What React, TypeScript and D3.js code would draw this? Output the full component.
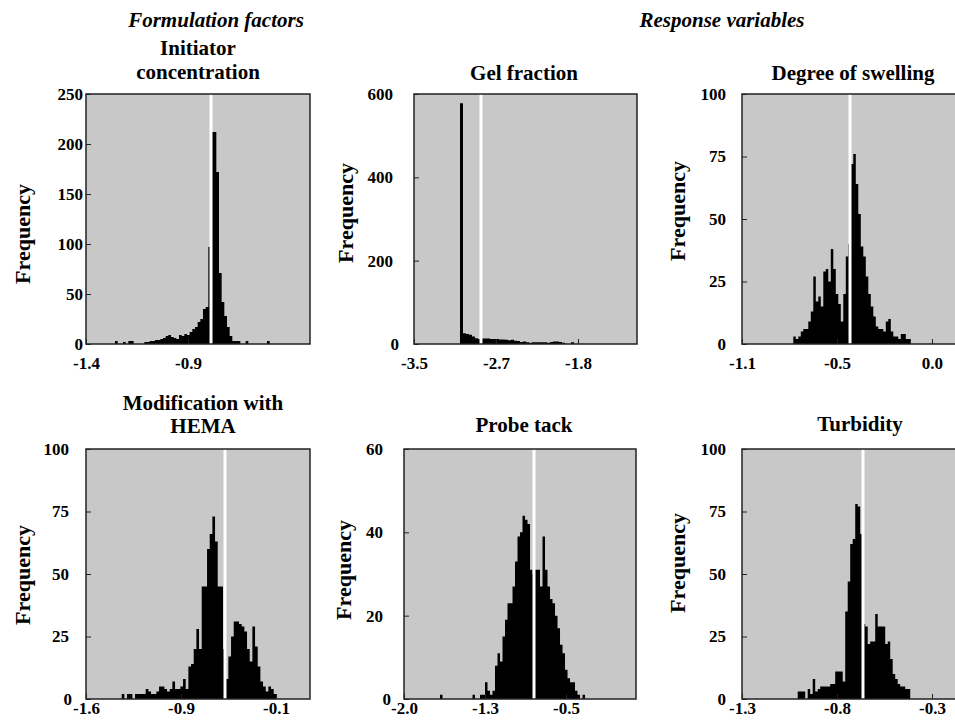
import React, { useEffect, useRef } from 'react';
import * as d3 from 'd3';

const SERIF = '"Liberation Serif", "Times New Roman", serif';

// Initiator concentration
const initiatorCounts = [3, 0, 0, 2, 0, 3, 3, 0, 0, 0, 0, 2, 2, 3, 3, 4, 4, 5, 6, 8, 9, 7, 6, 5, 9, 8, 10, 9, 12, 15, 17, 22, 25, 35, 37, 97, 212, 212, 172, 71, 42, 28, 17, 8, 3, 3, 3, 0, 0, 3, 0, 0, 0, 0, 0, 0, 0, 3];
const initiatorBin = { start: -1.2436, step: 0.01438 };
const initiatorTicks = [-1.4, -0.85];
const initiatorTickLabels = ['-1.4', '-0.9'];
const initiatorRef = -0.7258;

// Gel fraction
const gelCounts = [578, 26, 24, 22, 18, 14, 12, 13, 13, 13, 12, 12, 12, 11, 11, 10, 9, 10, 8, 7, 5, 6, 4, 3, 4, 4, 4, 4, 4, 3, 5, 6, 6, 5, 3, 0, 0, 4];
const gelBin = { start: -3.0233, step: 0.0311 };
const gelTicks = [-3.5, -2.65, -1.8];
const gelTickLabels = ['-3.5', '-2.7', '-1.8'];
const gelRef = -2.8057;

// Degree of swelling
const swellingCounts = [3, 2, 3, 5, 6, 6, 9, 13, 27, 17, 19, 15, 29, 30, 25, 38, 30, 20, 16, 9, 20, 35, 40, 72, 76, 64, 52, 39, 35, 27, 20, 15, 11, 7, 6, 6, 5, 9, 10, 5, 3, 3, 2, 4, 4, 2, 2];
const swellingBin = { start: -0.803, step: 0.014476 };
const swellingTicks = [-1.1, -0.55, 0.0];
const swellingTickLabels = ['-1.1', '-0.5', '0.0'];
const swellingRef = -0.4746;

// Modification with HEMA
const hemaCounts = [2, 0, 2, 2, 0, 2, 2, 2, 2, 4, 3, 2, 2, 3, 5, 5, 4, 3, 4, 7, 4, 4, 5, 8, 4, 13, 14, 20, 28, 20, 45, 45, 60, 66, 73, 63, 45, 45, 20, 8, 17, 25, 31, 31, 30, 29, 27, 20, 15, 29, 21, 13, 7, 5, 3, 5, 4, 2];
const hemaBin = { start: -1.3182, step: 0.02105 };
const hemaTicks = [-1.6, -0.85, -0.1];
const hemaTickLabels = ['-1.6', '-0.9', '-0.1'];
const hemaRef = -0.5029;

// Probe tack
const tackCounts = [1, 0, 0, 0, 0, 0, 0, 0, 0, 0, 0, 0, 0, 1, 0, 0, 1, 1, 4, 2, 1, 2, 8, 11, 9, 15, 19, 23, 23, 27, 33, 39, 40, 44, 43, 42, 31, 30, 31, 31, 27, 39, 31, 27, 24, 23, 20, 17, 13, 11, 7, 5, 4, 4, 2, 1, 0, 1];
const tackBin = { start: -1.6667, step: 0.02315 };
const tackTicks = [-2.0, -1.25, -0.5];
const tackTickLabels = ['-2.0', '-1.3', '-0.5'];
const tackRef = -0.7963;

// Turbidity
const turbidityCounts = [3, 3, 3, 0, 4, 2, 8, 3, 4, 5, 5, 5, 5, 6, 6, 11, 11, 11, 7, 35, 47, 62, 64, 78, 77, 66, 30, 29, 22, 23, 23, 34, 29, 29, 29, 22, 23, 16, 10, 8, 6, 5, 5, 4, 4];
const turbidityBin = { start: -1.0068, step: 0.01316 };
const turbidityTicks = [-1.3, -0.8, -0.3];
const turbidityTickLabels = ['-1.3', '-0.8', '-0.3'];
const turbidityRef = -0.6632;

const yTicks250 = [0, 50, 100, 150, 200, 250];
const yTicks600 = [0, 200, 400, 600];
const yTicks100 = [0, 25, 50, 75, 100];
const yTicks60 = [0, 20, 40, 60];

const panels = [
  { title: ['Initiator', 'concentration'], counts: initiatorCounts, bin: initiatorBin, xDomain: [-1.4, -0.192], xTicks: initiatorTicks, xLabels: initiatorTickLabels, ref: initiatorRef, yTicks: yTicks250,
    left: 86, top: 94, width: 224, yPad: 3, zeroDx: 0, xPad: 13, titleX: 198, titleY: [55, 79], freqX: 22, freqY: 234 },
  { title: ['Gel fraction'], counts: gelCounts, bin: gelBin, xDomain: [-3.5, -1.189], xTicks: gelTicks, xLabels: gelTickLabels, ref: gelRef, yTicks: yTicks600,
    left: 414, top: 94, width: 223, yPad: 21, zeroDx: 6, xPad: 13, titleX: 524, titleY: [80], freqX: 345, freqY: 213 },
  { title: ['Degree of swelling'], counts: swellingCounts, bin: swellingBin, xDomain: [-1.1, 0.197], xTicks: swellingTicks, xLabels: swellingTickLabels, ref: swellingRef, yTicks: yTicks100,
    left: 742, top: 94, width: 224, yPad: 16, zeroDx: 0, xPad: 13, titleX: 853, titleY: [80], freqX: 677, freqY: 211 },
  { title: ['Modification with', 'HEMA'], counts: hemaCounts, bin: hemaBin, xDomain: [-1.6, 0.168], xTicks: hemaTicks, xLabels: hemaTickLabels, ref: hemaRef, yTicks: yTicks100,
    left: 86, top: 449, width: 224, yPad: 17, zeroDx: 3, xPad: 3, titleX: 203, titleY: [410, 433], freqX: 22, freqY: 575 },
  { title: ['Probe tack'], counts: tackCounts, bin: tackBin, xDomain: [-2.0, 0.148], xTicks: tackTicks, xLabels: tackTickLabels, ref: tackRef, yTicks: yTicks60,
    left: 404, top: 449, width: 232, yPad: 21, zeroDx: 8, xPad: 3, titleX: 524, titleY: [432], freqX: 343, freqY: 570 },
  { title: ['Turbidity'], counts: turbidityCounts, bin: turbidityBin, xDomain: [-1.3, -0.121], xTicks: turbidityTicks, xLabels: turbidityTickLabels, ref: turbidityRef, yTicks: yTicks100,
    left: 742, top: 449, width: 224, yPad: 16, zeroDx: 0, xPad: 3, titleX: 860, titleY: [431], freqX: 677, freqY: 563 },
];

const PLOT_H = 250;
const TICK_FONT = 17;

const Panel = ({ p }: { p: typeof panels[number] }) => {
  const xRef = useRef<SVGGElement>(null);
  const yRef = useRef<SVGGElement>(null);
  const bottom = p.top + PLOT_H;
  const x = d3.scaleLinear().domain(p.xDomain).range([p.left, p.left + p.width]);
  const y = d3.scaleLinear().domain([0, p.yTicks[p.yTicks.length - 1]]).range([bottom, p.top]);

  // one step outline per histogram, so adjacent bins show no seams
  const bins = p.counts.map((c, i) => ({ x0: p.bin.start + i * p.bin.step, c }));
  bins.push({ x0: p.bin.start + p.counts.length * p.bin.step, c: 0 });
  const area = d3.area<{ x0: number; c: number }>()
    .x(d => x(d.x0))
    .y0(bottom)
    .y1(d => y(d.c))
    .curve(d3.curveStepAfter);

  useEffect(() => {
    const xa = d3.axisBottom(x)
      .tickValues(p.xTicks)
      .tickFormat((_, i) => p.xLabels[i])
      .tickSize(-5)
      .tickPadding(p.xPad);
    const gx = d3.select(xRef.current!).call(xa);
    gx.select('.domain').remove();
    gx.attr('font-family', SERIF).attr('font-size', TICK_FONT).attr('font-weight', 'bold');
    gx.selectAll('line').attr('stroke', '#222');
    gx.selectAll('text').attr('fill', '#000');

    const ya = d3.axisLeft(y).tickValues(p.yTicks).tickSize(-5).tickPadding(p.yPad);
    const gy = d3.select(yRef.current!).call(ya);
    gy.select('.domain').remove();
    gy.attr('font-family', SERIF).attr('font-size', TICK_FONT).attr('font-weight', 'bold');
    gy.selectAll('line').attr('stroke', '#222');
    gy.selectAll<SVGTextElement, number>('text').attr('fill', '#000')
      .attr('dx', d => (d === 0 ? p.zeroDx : 0));
  }, [p]);

  return (
    <g>
      <rect x={p.left} y={p.top} width={p.width} height={PLOT_H} fill="#c8c8c8" />
      <path d={area(bins) ?? ''} fill="#000" />
      <line x1={x(p.ref)} x2={x(p.ref)} y1={p.top} y2={bottom} stroke="#fff" strokeWidth={3} />
      <g ref={xRef} transform={`translate(0,${bottom})`} />
      <g ref={yRef} transform={`translate(${p.left},0)`} />
      <rect x={p.left} y={p.top} width={p.width} height={PLOT_H} fill="none" stroke="#222" strokeWidth={1.5} />
      {p.title.map((t, i) => (
        <text key={t} x={p.titleX} y={p.titleY[i]} textAnchor="middle" fontFamily={SERIF} fontSize={21} fontWeight="bold">{t}</text>
      ))}
      <text transform={`translate(${p.freqX},${p.freqY}) rotate(-90)`} dy="0.35em" textAnchor="middle"
        fontFamily={SERIF} fontSize={22} fontWeight="bold">Frequency</text>
    </g>
  );
};

export default function App() {
  return (
    <div style={{ position: 'absolute', left: 0, top: 0 }}>
      <svg width={955} height={723} style={{ display: 'block', background: '#fff' }}>
        <text x={216} y={27} textAnchor="middle" fontFamily={SERIF} fontSize={21} fontWeight="bold" fontStyle="italic">Formulation factors</text>
        <text x={722} y={27} textAnchor="middle" fontFamily={SERIF} fontSize={21} fontWeight="bold" fontStyle="italic">Response variables</text>
        {panels.map(p => <Panel key={p.title[0]} p={p} />)}
      </svg>
    </div>
  );
}
